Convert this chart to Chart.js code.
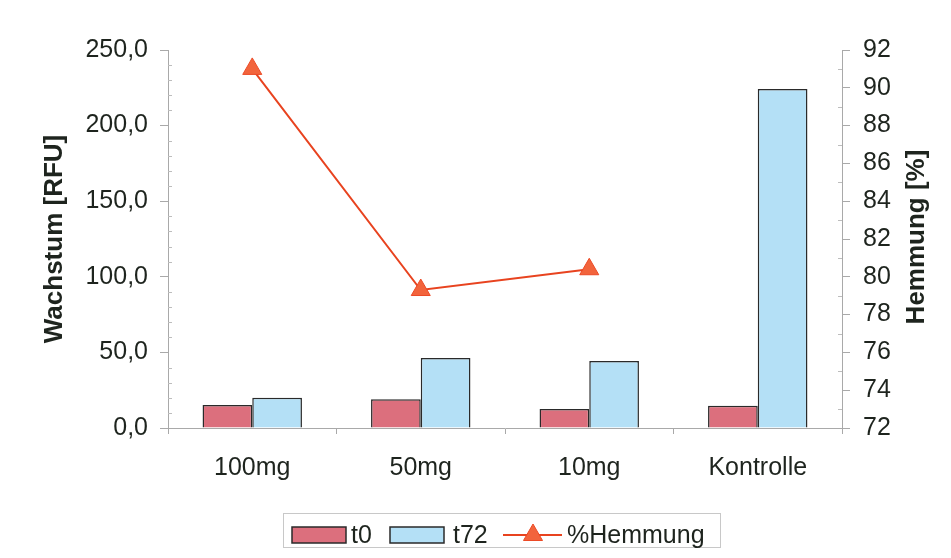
<!DOCTYPE html>
<html>
<head>
<meta charset="utf-8">
<script src="https://cdn.jsdelivr.net/npm/chart.js@4/dist/chart.umd.min.js"></script>
<style>
  html, body { margin: 0; padding: 0; background: #fff; }
  #wrap { width: 951px; height: 558px; position: relative; }
</style>
</head>
<body>
<div id="wrap"><canvas id="c" width="951" height="558"></canvas></div>
<script>
// Categories and measured values
const categories = ['100mg', '50mg', '10mg', 'Kontrolle'];
const t0Values = [15.2, 19.0, 12.6, 14.7];
const t72Values = [20.0, 46.3, 44.3, 224.2];
const hemmungValues = [91.0, 79.3, 80.4, null];

const leftTicks = [0, 50, 100, 150, 200, 250];
const rightTicks = [72, 74, 76, 78, 80, 82, 84, 86, 88, 90, 92];

const leftTitle = 'Wachstum [RFU]';
const rightTitle = 'Hemmung [%]';

const FONT = '"Liberation Sans", Arial, sans-serif';
const TXT = '#1e241e';
const AXIS = '#a9a9a9';

// Legend drawn in a bordered box below the plot
const boxedLegend = {
  id: 'boxedLegend',
  afterDraw(chart) {
    const ctx = chart.ctx;
    const ds = chart.data.datasets;
    ctx.save();
    ctx.strokeStyle = '#c8c8c8';
    ctx.lineWidth = 1;
    ctx.strokeRect(283.5, 513.5, 437, 34);
    ctx.font = '25px ' + FONT;
    ctx.fillStyle = TXT;
    ctx.textBaseline = 'middle';
    const cy = 535;
    const sw = [[292, ds[0]], [390, ds[1]]];
    const txtX = [351, 453];
    sw.forEach(([x, d], i) => {
      ctx.fillStyle = d.backgroundColor;
      ctx.fillRect(x, cy - 8, 54, 16);
      ctx.strokeStyle = d.borderColor;
      ctx.lineWidth = 1.5;
      ctx.strokeRect(x, cy - 8, 54, 16);
      ctx.fillStyle = TXT;
      ctx.fillText(d.label, txtX[i], cy + 1);
    });
    const ld = ds[2];
    ctx.strokeStyle = ld.borderColor;
    ctx.lineWidth = 2;
    ctx.beginPath();
    ctx.moveTo(503, cy);
    ctx.lineTo(562, cy);
    ctx.stroke();
    const r = 11, tx = 533, ty = cy;
    ctx.beginPath();
    ctx.moveTo(tx, ty - r);
    ctx.lineTo(tx + r * 0.866, ty + r * 0.5);
    ctx.lineTo(tx - r * 0.866, ty + r * 0.5);
    ctx.closePath();
    ctx.fillStyle = ld.pointBackgroundColor;
    ctx.fill();
    ctx.strokeStyle = ld.pointBorderColor;
    ctx.lineWidth = 1;
    ctx.stroke();
    ctx.fillStyle = TXT;
    ctx.fillText(ld.label, 567, cy + 1);
    ctx.restore();
  }
};

// Right axis title, read bottom-to-top like the left one
const rightAxisTitle = {
  id: 'rightAxisTitle',
  afterDraw(chart) {
    const ctx = chart.ctx;
    const a = chart.chartArea;
    ctx.save();
    ctx.translate(917, (a.top + a.bottom) / 2 - 2);
    ctx.rotate(-Math.PI / 2);
    ctx.font = 'bold 26px ' + FONT;
    ctx.fillStyle = TXT;
    ctx.textAlign = 'center';
    ctx.textBaseline = 'middle';
    ctx.fillText(rightTitle, 0, 0);
    ctx.restore();
  }
};

// Small inner minor ticks on both value axes
const minorTicks = {
  id: 'minorTicks',
  afterDatasetsDraw(chart) {
    const ctx = chart.ctx;
    const yl = chart.scales.y, yr = chart.scales.y1;
    ctx.save();
    ctx.strokeStyle = '#bdbdbd';
    ctx.lineWidth = 1;
    ctx.beginPath();
    for (let v = 10; v < 250; v += 10) {
      if (v % 50 === 0) continue;
      const p = Math.round(yl.getPixelForValue(v)) + 0.5;
      ctx.moveTo(yl.right, p); ctx.lineTo(yl.right + 4, p);
    }
    for (let v = 73; v < 92; v += 2) {
      const p = Math.round(yr.getPixelForValue(v)) + 0.5;
      ctx.moveTo(yr.left - 4, p); ctx.lineTo(yr.left, p);
    }
    ctx.stroke();
    ctx.restore();
  }
};

new Chart(document.getElementById('c'), {
  data: {
    labels: categories,
    datasets: [
      {
        type: 'bar', label: 't0', data: t0Values, yAxisID: 'y', order: 2,
        backgroundColor: '#dc6f7d', borderColor: '#2a2a2a', borderWidth: 1.5,
        categoryPercentage: 0.59, barPercentage: 1.0
      },
      {
        type: 'bar', label: 't72', data: t72Values, yAxisID: 'y', order: 2,
        backgroundColor: '#b4e0f6', borderColor: '#2a2a2a', borderWidth: 1.5,
        categoryPercentage: 0.59, barPercentage: 1.0
      },
      {
        type: 'line', label: '%Hemmung', data: hemmungValues, yAxisID: 'y1', order: 1,
        borderColor: '#e8431f', borderWidth: 2, spanGaps: false,
        pointStyle: 'triangle', pointRadius: 11, pointHoverRadius: 11,
        pointBackgroundColor: '#f2643c', pointBorderColor: '#ec4a26', pointBorderWidth: 1
      }
    ]
  },
  plugins: [boxedLegend, minorTicks, rightAxisTitle],
  options: {
    responsive: false,
    animation: false,
    devicePixelRatio: 1,
    layout: { padding: { top: 50, left: 0, right: 0, bottom: 0 } },
    plugins: { legend: { display: false }, tooltip: { enabled: false } },
    scales: {
      x: {
        offset: true,
        grid: { offset: true, drawOnChartArea: false, color: AXIS, tickLength: 6, tickColor: AXIS },
        border: { color: AXIS, width: 1 },
        ticks: { color: TXT, font: { family: FONT, size: 25 }, padding: 19, maxRotation: 0 },
        afterFit(s) { s.height = 130; }
      },
      y: {
        position: 'left', min: 0, max: 250,
        afterBuildTicks(s) { s.ticks = leftTicks.map(v => ({ value: v })); },
        grid: { drawOnChartArea: false, color: AXIS, tickLength: 8, tickColor: AXIS },
        border: { color: AXIS, width: 1 },
        ticks: {
          color: TXT, font: { family: FONT, size: 25 }, padding: 12,
          callback: v => v.toFixed(1).replace('.', ',')
        },
        title: {
          display: true, text: leftTitle, color: TXT,
          font: { family: FONT, size: 26, weight: 'bold' }, padding: { top: 39, bottom: 0 }
        },
        afterFit(s) { s.width = 168; }
      },
      y1: {
        position: 'right', min: 72, max: 92,
        afterBuildTicks(s) { s.ticks = rightTicks.map(v => ({ value: v })); },
        grid: { drawOnChartArea: false, color: AXIS, tickLength: 8, tickColor: AXIS },
        border: { color: AXIS, width: 1 },
        ticks: { color: TXT, font: { family: FONT, size: 25 }, padding: 13 },
        afterFit(s) { s.width = 109; }
      }
    }
  }
});
</script>
</body>
</html>
